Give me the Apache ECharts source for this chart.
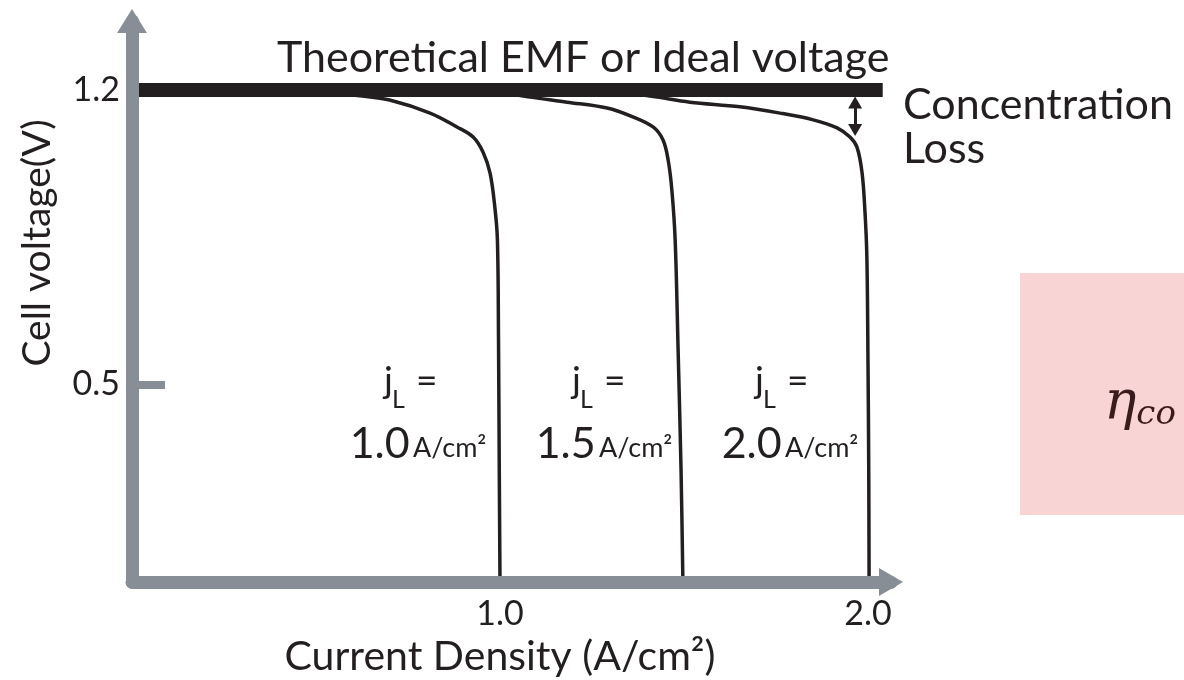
<!DOCTYPE html>
<html>
<head>
<meta charset="utf-8">
<script src="https://cdn.jsdelivr.net/npm/echarts@6.0.0/dist/echarts.min.js"></script>
<style>
  html, body { margin: 0; padding: 0; background: #fff; }
  #main { width: 1184px; height: 680px; }
</style>
</head>
<body>
<div id="main"></div>
<script>
// tick labels
var xTickValues = [1.0, 2.0];
var yTickValues = [0.5, 1.2];
var yTickMarks = [0.5];

// theoretical EMF line (V)
var idealVoltage = [[0.017, 1.2], [2.04, 1.2]];

// polarization curves, [current density, cell voltage]
var curveJ10 = [[0.40, 1.2], [0.50, 1.198], [0.565, 1.193], [0.62, 1.186], [0.70, 1.176], [0.81, 1.145],
  [0.883, 1.112], [0.927, 1.088], [0.954, 1.052], [0.973, 1.002], [0.986, 0.921], [0.993, 0.843],
  [0.996, 0.6], [0.998, 0.3], [1.0, 0.03]];
var curveJ15 = [[0.90, 1.2], [1.0, 1.195], [1.082, 1.183], [1.182, 1.171], [1.291, 1.157], [1.361, 1.136],
  [1.416, 1.112], [1.443, 1.081], [1.457, 1.033], [1.467, 0.962], [1.476, 0.843], [1.484, 0.581],
  [1.492, 0.295], [1.497, 0.03]];
var curveJ20 = [[1.25, 1.2], [1.35, 1.193], [1.427, 1.183], [1.516, 1.171], [1.652, 1.16], [1.761, 1.145],
  [1.851, 1.129], [1.916, 1.11], [1.951, 1.088], [1.970, 1.064], [1.984, 1.002], [1.992, 0.907],
  [1.997, 0.8], [2.0, 0.55], [2.002, 0.3], [2.003, 0.03]];

// limiting current labels
var limitLabels = ['1.0', '1.5', '2.0'];

// concentration loss arrow
var lossArrow = [[1.965, 1.17], [1.965, 1.105]];

var ink = '#231f20';
var axisGray = '#878e96';
var font = 'Lato';

var myChart = echarts.init(document.getElementById('main'));

function curve(data) {
  return {
    type: 'line',
    data: data,
    symbol: 'none',
    smooth: 0.35,
    z: 2,
    lineStyle: { color: ink, width: 3.5 }
  };
}

// "jL =" with subscript L, then "x.x A/cm²"  (cx: centre of the block)
function limitLabel(cx, valCx, v) {
  return [
    { type: 'text', x: cx - 19, y: 381, style: { text: 'j', fill: ink, fontFamily: font, fontSize: 37, align: 'right', verticalAlign: 'middle' } },
    { type: 'text', x: cx - 20, y: 400, style: { text: 'L', fill: ink, fontFamily: font, fontSize: 25, align: 'left', verticalAlign: 'middle' } },
    { type: 'text', x: cx + 4, y: 381, style: { text: '=', fill: ink, fontFamily: font, fontSize: 37, align: 'left', verticalAlign: 'middle' } },
    {
      type: 'text', x: valCx, y: 444,
      style: {
        text: '{b|' + v + '} {s|A/cm²}', fill: ink, align: 'center', verticalAlign: 'middle',
        rich: {
          b: { fontFamily: font, fontSize: 43, fill: ink, verticalAlign: 'bottom' },
          s: { fontFamily: font, fontSize: 27, fill: ink, verticalAlign: 'bottom', padding: [0, 0, 4, 0] }
        }
      }
    }
  ];
}

var graphics = [
  {
    type: 'text', x: 277, y: 58,
    style: { text: 'Theoretical EMF or Ideal voltage', fill: ink, fontFamily: font, fontSize: 43, align: 'left', verticalAlign: 'middle' }
  },
  {
    type: 'text', x: 903, y: 105,
    style: { text: 'Concentration', fill: ink, fontFamily: font, fontSize: 43, align: 'left', verticalAlign: 'middle' }
  },
  {
    type: 'text', x: 903, y: 149,
    style: { text: 'Loss', fill: ink, fontFamily: font, fontSize: 43, align: 'left', verticalAlign: 'middle' }
  },
  {
    type: 'text', x: 37, y: 243, rotation: Math.PI / 2,
    style: { text: 'Cell voltage(V)', fill: ink, fontFamily: font, fontSize: 39, align: 'center', verticalAlign: 'middle' }
  },
  {
    type: 'text', x: 500, y: 657,
    style: { text: 'Current Density (A/cm²)', fill: ink, fontFamily: font, fontSize: 41, align: 'center', verticalAlign: 'middle' }
  },
  // pink cropped inset at the right edge
  {
    type: 'rect', shape: { x: 1020, y: 273, width: 164, height: 242 },
    style: { fill: '#f9d4d4' }, z: -1
  },
  {
    type: 'text', x: 1104, y: 405,
    style: {
      text: '{e|η}{s|co}', fill: '#3b1c1c', align: 'left', verticalAlign: 'middle',
      rich: {
        e: { fontFamily: 'DejaVu Serif', fontStyle: 'italic', fontSize: 54 },
        s: { fontFamily: 'DejaVu Serif', fontStyle: 'italic', fontSize: 34, verticalAlign: 'bottom', lineHeight: 14 }
      }
    }
  }
]
  .concat(limitLabel(412, 418, limitLabels[0]))
  .concat(limitLabel(600, 604, limitLabels[1]))
  .concat(limitLabel(783, 790, limitLabels[2]));

var option = {
  animation: false,
  backgroundColor: '#fff',
  grid: { left: 132, right: 293, top: 21, bottom: 98, outerBoundsMode: 'none' },
  xAxis: {
    type: 'value',
    min: 0,
    max: 2.0625,
    z: 5,
    splitLine: { show: false },
    axisTick: { show: false },
    axisLine: {
      onZero: false,
      symbol: ['none', 'triangle'],
      symbolSize: [28, 24],
      lineStyle: { color: axisGray, width: 13, cap: 'round' }
    },
    axisLabel: {
      customValues: xTickValues,
      formatter: function (v) { return v.toFixed(1); },
      color: ink,
      fontFamily: font,
      fontSize: 34,
      margin: 15
    }
  },
  yAxis: {
    type: 'value',
    min: 0.03,
    max: 1.364,
    z: 5,
    splitLine: { show: false },
    axisTick: {
      show: true,
      inside: true,
      length: 33,
      customValues: yTickMarks,
      lineStyle: { color: axisGray, width: 8 }
    },
    axisLine: {
      onZero: false,
      symbol: ['none', 'triangle'],
      symbolSize: [30, 24],
      lineStyle: { color: axisGray, width: 13, cap: 'round' }
    },
    axisLabel: {
      customValues: yTickValues,
      formatter: function (v) { return v.toFixed(1); },
      color: ink,
      fontFamily: font,
      fontSize: 34,
      margin: 12
    }
  },
  series: [
    curve(curveJ10),
    curve(curveJ15),
    Object.assign(curve(curveJ20), {
      markLine: {
        silent: true,
        symbol: ['triangle', 'triangle'],
        symbolSize: [14, 12],
        label: { show: false },
        lineStyle: { color: ink, width: 3, type: 'solid' },
        data: [[{ coord: lossArrow[0] }, { coord: lossArrow[1] }]]
      }
    }),
    {
      type: 'line',
      data: idealVoltage,
      symbol: 'none',
      z: 3,
      lineStyle: { color: ink, width: 14, cap: 'butt' }
    }
  ],
  graphic: graphics
};

myChart.setOption(option);
</script>
</body>
</html>
